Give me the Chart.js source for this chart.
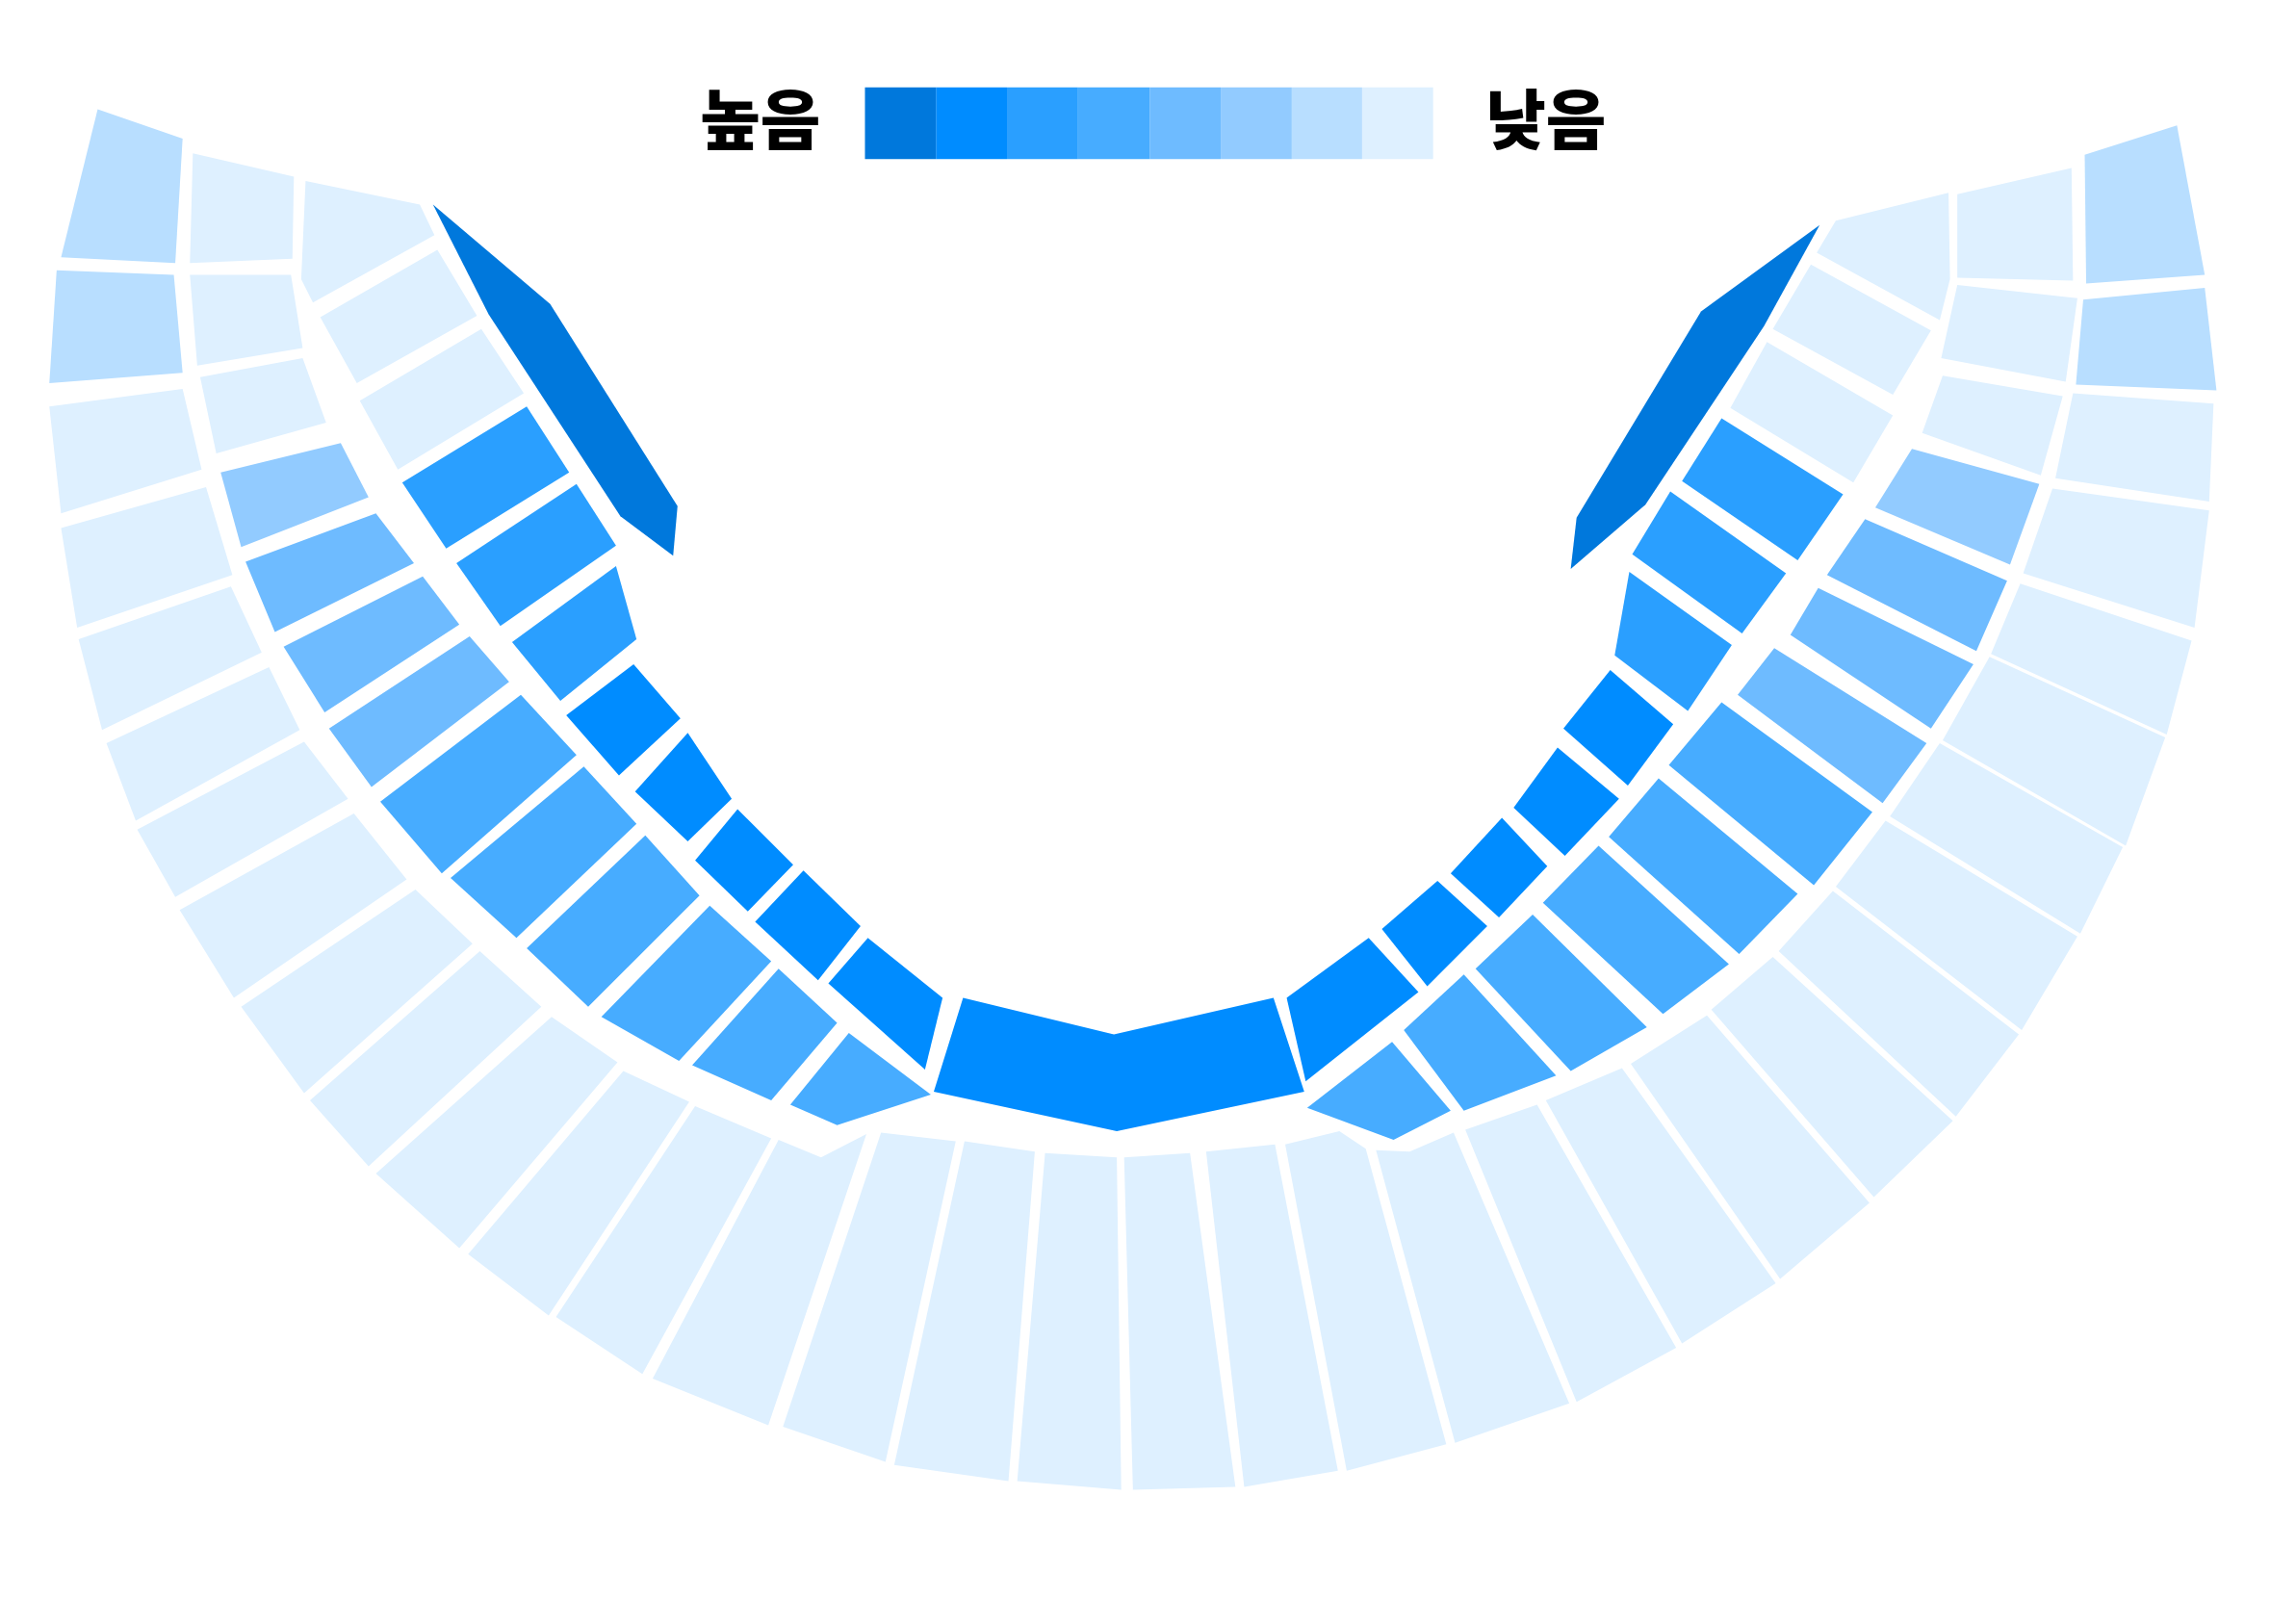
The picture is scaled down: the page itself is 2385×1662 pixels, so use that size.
<!DOCTYPE html>
<html>
<head>
<meta charset="utf-8">
<script src="https://cdn.jsdelivr.net/npm/chart.js@4"></script>
<style>
  html, body { margin: 0; padding: 0; background: #fff; }
  canvas { display: block; }
</style>
</head>
<body>
<canvas id="seatChart" width="2385" height="1662"></canvas>
<script>
// colour steps, high to low
const levelColors = ['#0078DC', '#008CFF', '#2A9FFF', '#47ACFF', '#6EBBFF', '#92CBFF', '#B8DEFF', '#DEF0FF'];
const legendLabels = ['높음', '낮음'];
const legendEdges = [590, 638.5, 687, 735.5, 784.5, 833, 881.5, 929.5, 978];
const legendRange = [59, 108];

// section outlines, x,y pairs
const level0 = [
  [295,139, 375,207, 462,345, 459,379, 423,352, 333,214],
  [1242,153, 1161,212, 1076,353, 1072,388, 1123,344, 1204,222]
];
const level1 = [
  [386,488, 432,453, 464,490, 422,529],
  [433,540, 469,500, 499,545, 469,574],
  [474,587, 503,552, 541,590, 510,622],
  [515,629, 548,594, 587,632, 558,669],
  [565,671, 592,640, 643,681, 631,730],
  [637,745, 657,681, 760,706, 869,681, 890,745, 762,772],
  [878,681, 934,640, 968,677, 891,738],
  [943,634, 981,601, 1015,632, 974,673],
  [990,596, 1025,558, 1056,591, 1023,626],
  [1033,551, 1063,510, 1105,545, 1068,584],
  [1067,497, 1099,457, 1142,494, 1111,536]
];
const level2 = [
  [274,329, 359,277, 388,322, 304,374],
  [311,384, 393,330, 420,372, 341,427],
  [349,438, 420,386, 434,436, 382,478],
  [1102,447, 1112,390, 1182,440, 1152,485],
  [1114,378, 1140,335, 1219,391, 1189,432],
  [1148,328, 1175,285, 1258,337, 1227,382]
];
const level3 = [
  [259,547, 355,474, 393,515, 301,596],
  [307,599, 398,523, 434,562, 352,640],
  [359,647, 440,570, 477,611, 401,687],
  [410,694, 484,618, 526,656, 463,724],
  [472,727, 531,661, 571,698, 526,751],
  [539,754, 579,705, 635,747, 571,768],
  [1175,479, 1278,554, 1238,604, 1139,522],
  [1132,531, 1227,610, 1187,651, 1098,571],
  [1091,577, 1180,658, 1135,692, 1053,616],
  [1046,624, 1124,701, 1072,731, 1007,661],
  [999,665, 1062,734, 999,758, 958,703],
  [950,711, 990,758, 951,778, 892,756]
];
const level4 = [
  [167,383, 256,350, 282,384, 187,431],
  [193,441, 288,393, 313,426, 221,486],
  [224,497, 320,434, 347,465, 253,537],
  [1273,354, 1370,396, 1349,444, 1247,392],
  [1241,401, 1347,453, 1318,497, 1222,433],
  [1211,442, 1315,507, 1285,548, 1186,474]
];
const level5 = [
  [150,322, 232,302, 251,339, 164,373],
  [1305,306, 1392,330, 1372,385, 1280,346]
];
const level6 = [
  [66,74, 124,94, 119,179, 41,175],
  [38,184, 118,187, 124,254, 33,261],
  [1513,266, 1417,262, 1422,204, 1505,196],
  [1505,187, 1424,193, 1423,105, 1486,85]
];
const level7 = [
  [33,277, 124,265, 137,320, 41,350],
  [41,360, 140,332, 158,392, 52,428],
  [53,436, 157,400, 178,445, 69,498],
  [72,507, 183,455, 204,498, 92,560],
  [93,566, 207,506, 237,545, 119,612],
  [122,621, 241,555, 277,600, 159,681],
  [164,687, 283,607, 322,644, 207,746],
  [211,751, 327,649, 369,687, 251,796],
  [256,801, 376,694, 421,725, 313,852],
  [319,856, 425,731, 470,752, 374,898],
  [379,899, 474,755, 526,777, 438,938],
  [445,941, 531,778, 560,790, 591,774, 524,973],
  [534,974, 601,773, 652,779, 604,998],
  [610,1000, 658,779, 706,786, 688,1011],
  [694,1011, 713,787, 762,790, 765,1017],
  [773,1017, 767,790, 812,787, 843,1015],
  [849,1015, 823,786, 870,781, 913,1004],
  [919,1004, 877,781, 914,772, 932,784, 987,986],
  [993,985, 939,785, 962,786, 992,773, 1071,958],
  [1076,957, 1000,771, 1049,754, 1144,920],
  [1148,917, 1055,751, 1107,729, 1212,876],
  [1215,873, 1113,726, 1165,693, 1276,821],
  [1279,817, 1168,689, 1210,653, 1333,765],
  [1335,762, 1214,649, 1251,608, 1378,706],
  [1380,703, 1253,605, 1287,560, 1418,639],
  [1420,637, 1290,557, 1324,507, 1449,578],
  [1451,577, 1326,505, 1358,448, 1478,503],
  [1479,501, 1359,446, 1379,398, 1496,437],
  [1498,428, 1381,391, 1401,333, 1508,348],
  [1508,342, 1403,326, 1415,268, 1511,275],
  [131,104, 200,120, 199,176, 129,179],
  [129,187, 198,187, 206,237, 134,249],
  [136,257, 206,244, 222,288, 147,309],
  [208,123, 286,139, 296,160, 213,206, 205,190],
  [218,216, 298,170, 325,215, 243,261],
  [245,273, 328,224, 357,268, 271,320],
  [1181,278, 1206,233, 1292,283, 1265,329],
  [1210,224, 1236,180, 1318,225, 1292,269],
  [1240,172, 1253,150, 1330,131, 1331,190, 1324,218],
  [1336,132, 1414,114, 1415,191, 1336,189],
  [1336,194, 1418,203, 1410,260, 1325,244],
  [1326,256, 1408,270, 1393,324, 1312,295]
];
const levels = [level0, level1, level2, level3, level4, level5, level6, level7];

function toPoints(flat) {
  const pts = [];
  for (let i = 0; i < flat.length; i += 2) {
    pts.push({ x: flat[i], y: flat[i + 1] });
  }
  pts.push(pts[0]);
  return pts;
}

const datasets = [];
levels.forEach((sections, i) => {
  sections.forEach(flat => {
    datasets.push({
      data: toPoints(flat),
      backgroundColor: levelColors[i],
      borderWidth: 0,
      pointRadius: 0,
      showLine: true,
      tension: 0,
      fill: 'shape'
    });
  });
});

// legend strip
levelColors.forEach((color, i) => {
  const x0 = legendEdges[i], x1 = legendEdges[i + 1];
  datasets.push({
    data: toPoints([x0, legendRange[0], x1, legendRange[0], x1, legendRange[1], x0, legendRange[1]]),
    backgroundColor: color,
    borderWidth: 0,
    pointRadius: 0,
    showLine: true,
    fill: 'shape'
  });
});

const legendText = {
  id: 'legendText',
  afterDraw(chart) {
    const { ctx, scales } = chart;
    ctx.save();
    ctx.fillStyle = '#000';
    ctx.font = '900 68px "Noto Sans CJK KR"';
    ctx.textAlign = 'center';
    ctx.textBaseline = 'middle';
    ctx.fillText(legendLabels[0], scales.x.getPixelForValue(518.5), scales.y.getPixelForValue(81));
    ctx.fillText(legendLabels[1], scales.x.getPixelForValue(1055), scales.y.getPixelForValue(81));
    ctx.restore();
  }
};

new Chart(document.getElementById('seatChart'), {
  type: 'scatter',
  data: { datasets },
  plugins: [legendText],
  options: {
    responsive: false,
    animation: false,
    layout: { padding: 0 },
    plugins: { legend: { display: false }, tooltip: { enabled: false } },
    scales: {
      x: { type: 'linear', display: false, min: -0.7, max: 1567.3 },
      y: { type: 'linear', display: false, min: -0.7, max: 1092.3, reverse: true }
    }
  }
});
</script>
</body>
</html>
